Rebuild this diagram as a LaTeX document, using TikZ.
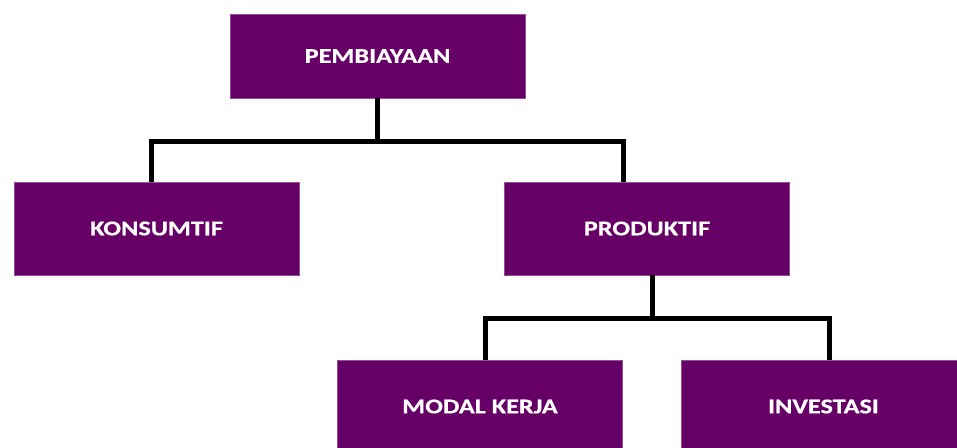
\documentclass[tikz,border=0pt]{standalone}
\usepackage{fontspec}
\setmainfont{Carlito}[FakeStretch=1.25,FakeBold=0.6]
\usetikzlibrary{positioning}
\definecolor{ungu}{HTML}{660066}
\tikzset{
  kotak/.style={fill=ungu,draw=ungu!70!white,line width=.6pt,text=white,font=\bfseries\fontsize{21}{24}\selectfont,
    minimum width=285pt,minimum height=93pt,inner sep=0pt},
  garis/.style={line width=5pt,black}
}
\begin{document}
\begin{tikzpicture}[x=1pt,y=1pt]
            \useasboundingbox (0,0) rectangle (957,447);
            \clip (0,0) rectangle (957,447);
            \node[kotak,minimum width=295pt,minimum height=84pt] (pembiayaan) at (377.5,391) {PEMBIAYAAN};
            \node[kotak] (konsumtif) at (156.5,218.5) {KONSUMTIF};
            \node[kotak] (produktif) at (647,218.5) {PRODUKTIF};
            \node[kotak] (modal) at (480,40.5) {MODAL KERJA};
            \node[kotak] (investasi) at (823.5,40.5) {INVESTASI};
            \draw[garis] (pembiayaan.south) -- ++(0,-43) -| ([xshift=-5.5pt]konsumtif.north);
            \draw[garis] (pembiayaan.south) -- ++(0,-43) -| ([xshift=-24pt]produktif.north);
            \draw[garis] ([xshift=5pt]produktif.south) -- ++(0,-43) -| ([xshift=5pt]modal.north);
            \draw[garis] ([xshift=5pt]produktif.south) -- ++(0,-43) -| ([xshift=5.5pt]investasi.north);
\end{tikzpicture}
\end{document}
